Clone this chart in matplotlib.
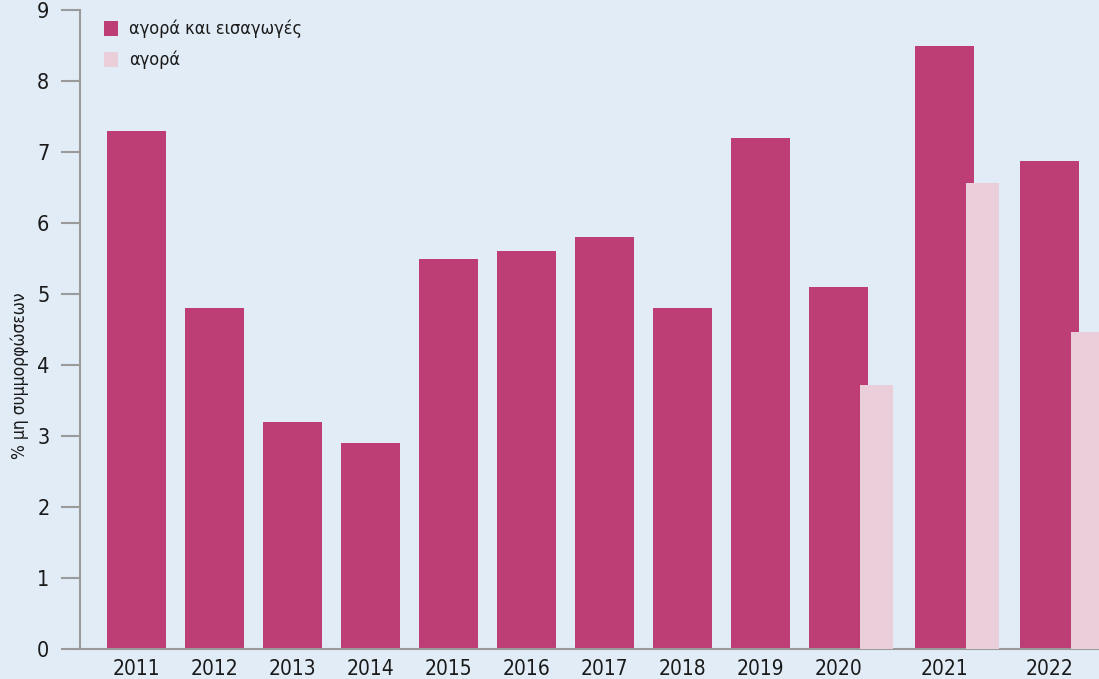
import matplotlib.pyplot as plt
import numpy as np
from matplotlib import font_manager

# στενή γραμματοσειρά αν υπάρχει, αλλιώς DejaVu Sans Condensed
onomata = {f.name for f in font_manager.fontManager.ttflist}
if 'Liberation Sans Narrow' in onomata:
    plt.rcParams['font.family'] = ['Liberation Sans Narrow', 'DejaVu Sans']
else:
    plt.rcParams['font.family'] = ['DejaVu Sans']
    plt.rcParams['font.stretch'] = 'condensed'

# Ποσοστό μη συμμορφώσεων ανά έτος
etos = ['2011', '2012', '2013', '2014', '2015', '2016', '2017', '2018',
        '2019', '2020', '2021', '2022']
agora_eisagoges = [7.3, 4.8, 3.2, 2.9, 5.5, 5.6, 5.8, 4.8, 7.2, 5.1, 8.5, 6.87]
agora = [None, None, None, None, None, None, None, None, None, 3.72, 6.57, 4.47]

skouro = '#bd3d75'
anoixto = '#eacfda'
fonto = '#e1ecf6'
gkri = '#9a9a9a'

# θέσεις: κάθε ζεύγος στηλών αφήνει λίγο επιπλέον κενό μετά
theseis = []
extra = 0.0
for i, v in enumerate(agora):
    theseis.append(i + extra)
    if v is not None:
        extra += 0.355
theseis = np.array(theseis)

fig = plt.figure(figsize=(10.99, 6.79), dpi=100, facecolor=fonto)
ax = fig.add_axes([80 / 1099, 30 / 679, 1019 / 1099, 639 / 679], facecolor=fonto)

ax.bar(theseis, agora_eisagoges, width=0.756, color=skouro,
       label='αγορά και εισαγωγές', zorder=2)
mask = [v is not None for v in agora]
ax.bar(theseis[mask] + 0.487, [v for v in agora if v is not None], width=0.423,
       color=anoixto, label='αγορά', zorder=3)

ax.set_xlim(-0.724, 12.34)
ax.set_ylim(0, 9)
ax.set_yticks(range(0, 10))
ax.set_xticks(theseis)
ax.set_xticklabels(etos)

for s in ['top', 'right']:
    ax.spines[s].set_visible(False)
for s in ['left', 'bottom']:
    ax.spines[s].set_color(gkri)
    ax.spines[s].set_linewidth(1.5)

ax.tick_params(axis='y', length=14, width=1.5, color=gkri, pad=8,
               labelsize=15.5, labelcolor='#1a1a1a')
ax.tick_params(axis='x', length=0, pad=7, labelsize=15, labelcolor='#1a1a1a')

ax.set_ylabel('% μη συμμορφώσεων', fontsize=12.5, color='#1a1a1a')
ax.yaxis.set_label_coords(-0.05, 0.427)

leg = ax.legend(loc='upper left', bbox_to_anchor=(0.008, 1.01), frameon=False,
                fontsize=13, handlelength=0.75, handleheight=0.9,
                handletextpad=0.6, labelspacing=0.7)
for t in leg.get_texts():
    t.set_color('#1a1a1a')

fig.savefig('out.png', dpi=100, facecolor=fonto)
